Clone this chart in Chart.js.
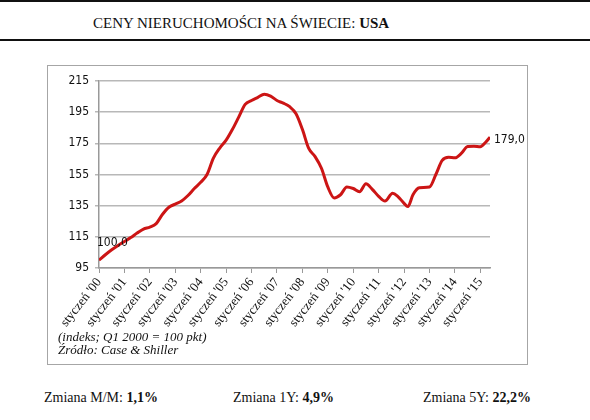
<!DOCTYPE html>
<html lang="pl">
<head>
    <meta charset="UTF-8">
    <title>Ceny nieruchomości na świecie: USA</title>
    <style>
        body {
            margin: 0;
            width: 590px;
            height: 420px;
            background: #fff;
            position: relative;
            overflow: hidden;
            font-family: 'Liberation Serif', 'DejaVu Serif', serif;
            color: #111;
        }
        .rule {
            position: absolute;
            left: 0;
            width: 590px;
            background: #111;
        }
        .title {
            position: absolute;
            left: 93px;
            top: 13px;
            font-size: 15px;
            line-height: 20px;
            white-space: nowrap;
        }
        .chart-box {
            position: absolute;
            left: 47px;
            top: 65px;
            width: 481px;
            height: 300px;
            box-sizing: border-box;
            border: 1px solid #a6a6a6;
        }
        .chart-box canvas {
            position: absolute;
            left: 0;
            top: 0;
        }
        .note {
            position: absolute;
            left: 10px;
            top: 264px;
            font-size: 13px;
            line-height: 13px;
            font-style: italic;
        }
        .stat {
            position: absolute;
            top: 389px;
            font-size: 14px;
            line-height: 18px;
            white-space: nowrap;
        }
    </style>
    <script src="https://cdn.jsdelivr.net/npm/chart.js"></script>
</head>
<body>
    <div class="rule" style="top:0;height:2px"></div>
    <div class="title">CENY NIERUCHOMOŚCI NA ŚWIECIE: <b>USA</b></div>
    <div class="rule" style="top:39px;height:1.5px"></div>

    <div class="chart-box">
        <canvas id="usa-chart" width="479" height="298" style="width:479px;height:298px"></canvas>
        <div class="note">(indeks; Q1 2000 = 100 pkt)<br>Źródło: Case &amp; Shiller</div>
    </div>

    <div class="stat" style="left:44px">Zmiana M/M: <b>1,1%</b></div>
    <div class="stat" style="left:233px">Zmiana 1Y: <b>4,9%</b></div>
    <div class="stat" style="left:423px">Zmiana 5Y: <b>22,2%</b></div>

    <script>
        // Case-Shiller index (x = year as decimal)
        const dates = [
            2000.0, 2000.25, 2000.5, 2000.75,
            2001.0, 2001.25, 2001.5, 2001.75,
            2002.0, 2002.25, 2002.5, 2002.75,
            2003.0, 2003.25, 2003.5, 2003.75,
            2004.0, 2004.25, 2004.5, 2004.75,
            2005.0, 2005.25, 2005.5, 2005.75,
            2006.0, 2006.25, 2006.5, 2006.75,
            2007.0, 2007.25, 2007.5, 2007.75,
            2008.0, 2008.25, 2008.5, 2008.75,
            2009.0, 2009.25, 2009.5, 2009.75,
            2010.0, 2010.25, 2010.5, 2010.75,
            2011.0, 2011.25, 2011.55, 2011.75,
            2012.0, 2012.15, 2012.35, 2012.6,
            2013.0, 2013.25, 2013.5, 2013.75,
            2014.0, 2014.25, 2014.5, 2014.75,
            2015.0, 2015.2, 2015.38
        ];
        const values = [
            100.0, 103.5, 106.7, 109.5,
            112.0, 114.5, 117.4, 120.0,
            121.2, 123.5, 129.5, 134.0,
            136.0, 138.0, 141.5, 146.0,
            150.0, 155.0, 165.5, 172.0,
            177.0, 184.0, 192.0, 200.0,
            202.5, 204.5, 206.5, 205.3,
            202.5, 200.8, 198.5, 194.0,
            184.0, 171.7, 166.5, 159.0,
            147.0, 140.0, 142.0, 147.0,
            146.0, 144.0, 149.0, 145.5,
            141.0, 138.0, 143.0, 141.0,
            136.5, 134.4, 142.0, 146.5,
            147.0, 155.0, 164.0, 166.0,
            165.7, 168.5, 173.0, 173.2,
            172.8, 175.5, 179.0
        ];
        const tickYears = [2000, 2001, 2002, 2003, 2004, 2005, 2006, 2007,
                           2008, 2009, 2010, 2011, 2012, 2013, 2014, 2015];
        const tickLabels = ["styczeń '00", "styczeń '01", "styczeń '02", "styczeń '03",
                            "styczeń '04", "styczeń '05", "styczeń '06", "styczeń '07",
                            "styczeń '08", "styczeń '09", "styczeń '10", "styczeń '11",
                            "styczeń '12", "styczeń '13", "styczeń '14", "styczeń '15"];
        const yTicks = [95, 115, 135, 155, 175, 195, 215];

        const fmt = v => v.toFixed(1).replace('.', ',');

        // labels for the first and last point
        const endLabels = {
            id: 'endLabels',
            afterDatasetsDraw(chart) {
                const pts = chart.getDatasetMeta(0).data;
                const first = pts[0];
                const last = pts[pts.length - 1];
                const ctx = chart.ctx;
                ctx.save();
                ctx.font = "12px 'DejaVu Sans Condensed', 'DejaVu Sans', sans-serif";
                ctx.fillStyle = '#111';
                ctx.textAlign = 'left';
                ctx.textBaseline = 'middle';
                ctx.fillText(fmt(values[0]), first.x - 2, first.y - 17);
                ctx.fillText(fmt(values[values.length - 1]), last.x + 4, last.y + 3);
                ctx.restore();
            }
        };

        new Chart(document.getElementById('usa-chart'), {
            type: 'line',
            data: {
                datasets: [{
                    data: dates.map((d, i) => ({ x: d, y: values[i] })),
                    borderColor: '#cc1515',
                    borderWidth: 3,
                    pointRadius: 0,
                    fill: false,
                    cubicInterpolationMode: 'monotone'
                }]
            },
            options: {
                responsive: false,
                animation: false,
                layout: { padding: { top: 15, right: 37, left: 0, bottom: 0 } },
                plugins: {
                    legend: { display: false },
                    tooltip: { enabled: false }
                },
                scales: {
                    x: {
                        type: 'linear',
                        min: dates[0],
                        max: dates[dates.length - 1],
                        afterBuildTicks: s => { s.ticks = tickYears.map(v => ({ value: v })); },
                        afterFit: s => { s.height = 96; },
                        grid: {
                            drawOnChartArea: false,
                            color: '#999',
                            tickLength: 5
                        },
                        border: { color: '#999', width: 1.5 },
                        ticks: {
                            autoSkip: false,
                            maxRotation: 52,
                            minRotation: 52,
                            padding: 2,
                            color: '#111',
                            font: { family: "'Liberation Serif', 'DejaVu Serif', serif", size: 13 },
                            callback: (v, i) => tickLabels[i]
                        }
                    },
                    y: {
                        min: 95,
                        max: 215,
                        afterBuildTicks: s => { s.ticks = yTicks.map(v => ({ value: v })); },
                        afterFit: s => { s.width = 51; },
                        grid: {
                            color: '#b8b8b8',
                            lineWidth: 1.5,
                            tickLength: 4
                        },
                        border: { color: '#999', width: 1.5 },
                        ticks: {
                            padding: 6,
                            color: '#111',
                            font: { family: "'DejaVu Sans Condensed', 'DejaVu Sans', sans-serif", size: 12 }
                        }
                    }
                }
            },
            plugins: [endLabels]
        });
    </script>
</body>
</html>
